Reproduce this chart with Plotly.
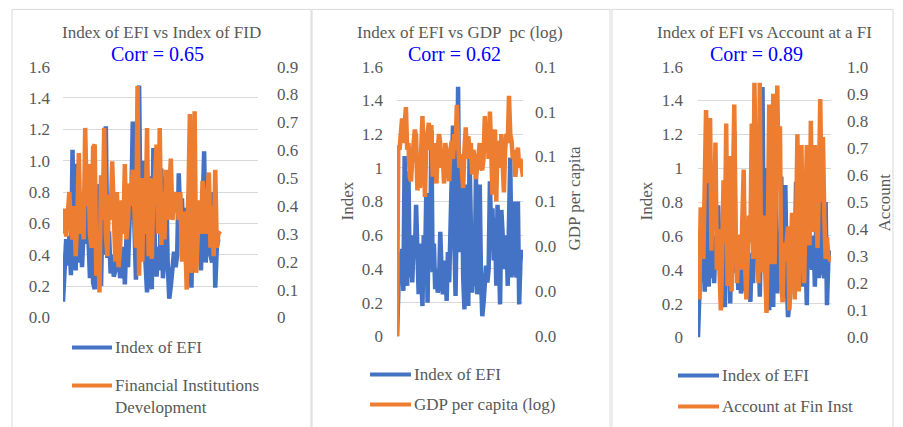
import plotly.graph_objects as go

W, H = 903, 427

# ---------------- data ----------------
efi = [0.00, 0.30, 0.50, 0.33, 0.52, 0.27, 1.07, 0.45, 0.30, 0.98,
       0.35, 0.60, 0.32, 0.55, 0.47, 0.78, 0.48, 0.25, 0.55, 0.22,
       0.18, 0.60, 0.40, 0.85, 0.20, 0.75, 0.40, 1.22, 0.38, 0.55,
       0.28, 0.40, 0.26, 0.30, 0.62, 0.40, 0.25, 0.35, 0.45, 0.21,
       0.50, 0.32, 0.62, 0.70, 1.25, 0.60, 0.24, 0.75, 1.48, 0.50,
       0.85, 1.00, 0.35, 0.16, 0.90, 0.30, 0.18, 1.08, 0.40, 0.26,
       0.45, 0.30, 0.95, 0.25, 0.40, 0.90, 0.35, 0.12, 0.20, 0.35,
       0.42, 0.32, 0.40, 0.92, 0.60, 0.76, 0.45, 0.70, 0.30, 0.78,
       0.45, 0.19, 0.75, 0.55, 0.46, 0.40, 0.60, 0.30, 0.86, 1.06,
       0.35, 0.60, 0.80, 0.40, 0.35, 0.80, 0.19, 0.45, 0.50, 0.50]

efi_p1_first = 0.10  # first point as drawn in panel 1

fid = [0.30, 0.39, 0.29, 0.36, 0.45, 0.32, 0.28, 0.40, 0.22, 0.35,
       0.59, 0.30, 0.45, 0.28, 0.68, 0.40, 0.55, 0.30, 0.25, 0.61,
       0.62, 0.15, 0.30, 0.09, 0.51, 0.35, 0.68, 0.30, 0.22, 0.44,
       0.35, 0.56, 0.40, 0.20, 0.45, 0.18, 0.25, 0.42, 0.30, 0.55,
       0.28, 0.35, 0.48, 0.40, 0.53, 0.38, 0.25, 0.83, 0.15, 0.50,
       0.20, 0.50, 0.30, 0.68, 0.22, 0.50, 0.21, 0.45, 0.50, 0.62,
       0.30, 0.68, 0.26, 0.45, 0.28, 0.53, 0.35, 0.45, 0.57, 0.35,
       0.40, 0.45, 0.40, 0.35, 0.45, 0.20, 0.38, 0.30, 0.10, 0.40,
       0.73, 0.16, 0.35, 0.74, 0.16, 0.30, 0.42, 0.30, 0.49, 0.35,
       0.30, 0.45, 0.52, 0.25, 0.40, 0.22, 0.53, 0.25, 0.30, 0.31]

gdp = [0.000, 0.085, 0.083, 0.090, 0.097, 0.086, 0.094, 0.102, 0.083, 0.086,
       0.071, 0.069, 0.079, 0.086, 0.092, 0.089, 0.065, 0.068, 0.066, 0.083,
       0.098, 0.079, 0.062, 0.086, 0.090, 0.095, 0.083, 0.094, 0.071, 0.086,
       0.079, 0.068, 0.083, 0.090, 0.086, 0.075, 0.079, 0.068, 0.086, 0.079,
       0.075, 0.069, 0.083, 0.087, 0.079, 0.090, 0.083, 0.103, 0.086, 0.075,
       0.081, 0.071, 0.066, 0.083, 0.093, 0.079, 0.089, 0.083, 0.086, 0.072,
       0.083, 0.079, 0.070, 0.075, 0.083, 0.086, 0.075, 0.074, 0.079, 0.098,
       0.084, 0.089, 0.079, 0.100, 0.083, 0.063, 0.086, 0.092, 0.060, 0.087,
       0.083, 0.075, 0.090, 0.079, 0.064, 0.083, 0.090, 0.086, 0.107, 0.090,
       0.087, 0.079, 0.083, 0.071, 0.081, 0.084, 0.075, 0.079, 0.075, 0.071]

acc = [0.40, 0.14, 0.48, 0.45, 0.29, 0.50, 0.84, 0.57, 0.65, 0.81,
       0.32, 0.57, 0.45, 0.72, 0.25, 0.40, 0.20, 0.10, 0.30, 0.58,
       0.35, 0.79, 0.19, 0.40, 0.67, 0.17, 0.45, 0.86, 0.40, 0.20,
       0.30, 0.38, 0.25, 0.45, 0.62, 0.27, 0.14, 0.30, 0.45, 0.35,
       0.79, 0.29, 0.94, 0.57, 0.35, 0.20, 0.94, 0.24, 0.40, 0.45,
       0.25, 0.09, 0.40, 0.86, 0.50, 0.27, 0.90, 0.27, 0.55, 0.93,
       0.60, 0.78, 0.20, 0.13, 0.35, 0.28, 0.35, 0.41, 0.10, 0.30,
       0.46, 0.30, 0.14, 0.40, 0.75, 0.17, 0.40, 0.71, 0.35, 0.20,
       0.45, 0.71, 0.40, 0.34, 0.80, 0.39, 0.50, 0.71, 0.45, 0.33,
       0.55, 0.88, 0.50, 0.74, 0.45, 0.29, 0.37, 0.30, 0.29, 0.28]

titles = ["Index of EFI vs Index of FID", "Index of EFI vs GDP  pc (log)",
          "Index of EFI vs Account at a FI"]
corrs = ["Corr = 0.65", "Corr = 0.62", "Corr = 0.89"]
legend1 = ["Index of EFI", "Financial Institutions<br>Development"]
legend2 = ["Index of EFI", "GDP per capita (log)"]
legend3 = ["Index of EFI", "Account at Fin Inst"]

left_ticks = [0, 0.2, 0.4, 0.6, 0.8, 1.0, 1.2, 1.4, 1.6]
p1_right_ticks = [0, 0.1, 0.2, 0.3, 0.4, 0.5, 0.6, 0.7, 0.8, 0.9]
p1_right_text = ["0", "0.1", "0.2", "0.3", "0.4", "0.5", "0.6", "0.7", "0.8", "0.9"]
p2_right_ticks = [0, 0.02, 0.04, 0.06, 0.08, 0.10, 0.12]
p3_right_ticks = [0, 0.1, 0.2, 0.3, 0.4, 0.5, 0.6, 0.7, 0.8, 0.9, 1.0]

# ---------------- style ----------------
BLUE = "#4472C4"
ORANGE = "#ED7D31"
GRAY = "#595959"
GRID = "#d9d9d9"
FONT = "Liberation Serif"
LW = 4.5

# empirical vertical correction of the capture (observed y = 9.4 + 0.956*y)
Y_OFF, Y_SCALE = 9.4, 0.956


def fx(p):
    return p / W


def fy(p):
    q = (p - Y_OFF) / Y_SCALE
    return min(max(1 - q / H, 0.0), 1.0)


idx = list(range(len(efi)))
efi_p1 = [efi_p1_first] + efi[1:]

fig = go.Figure()
fig.add_trace(go.Scatter(x=idx, y=efi_p1, xaxis="x", yaxis="y", mode="lines",
                         line=dict(color=BLUE, width=LW)))
fig.add_trace(go.Scatter(x=idx, y=fid, xaxis="x", yaxis="y2", mode="lines",
                         line=dict(color=ORANGE, width=LW)))
fig.add_trace(go.Scatter(x=idx, y=efi, xaxis="x2", yaxis="y3", mode="lines",
                         line=dict(color=BLUE, width=LW)))
fig.add_trace(go.Scatter(x=idx, y=gdp, xaxis="x2", yaxis="y4", mode="lines",
                         line=dict(color=ORANGE, width=LW)))
fig.add_trace(go.Scatter(x=idx, y=efi, xaxis="x3", yaxis="y5", mode="lines",
                         line=dict(color=BLUE, width=LW)))
fig.add_trace(go.Scatter(x=idx, y=acc, xaxis="x3", yaxis="y6", mode="lines",
                         line=dict(color=ORANGE, width=LW)))

tickfont = dict(family=FONT, size=17, color=GRAY)
hidden_x = dict(showgrid=False, showticklabels=False, zeroline=False,
                showline=False, ticks="")


def left_axis(domain, anchor, fmt, standoff):
    return dict(domain=domain, anchor=anchor, range=[0, 1.6001],
                tickvals=left_ticks, tickformat=fmt, showgrid=True,
                gridcolor=GRID, gridwidth=1, zeroline=False, showline=False,
                ticks="", tickfont=tickfont, ticklabelstandoff=standoff)


def right_axis(overlay, anchor, rng, standoff, **kw):
    d = dict(overlaying=overlay, anchor=anchor, side="right", range=rng,
             showgrid=False, zeroline=False, showline=False, ticks="",
             tickfont=tickfont, ticklabelstandoff=standoff)
    d.update(kw)
    return d


xlen = len(efi) - 1
fig.update_layout(
    width=W, height=H, margin=dict(l=0, r=0, t=0, b=0),
    paper_bgcolor="white", plot_bgcolor="white", showlegend=False,
    xaxis=dict(domain=[fx(63), fx(258)], anchor="y",
               range=[0, xlen * 195 / 157], **hidden_x),
    yaxis=left_axis([fy(318), fy(67)], "x", ".1f", 12),
    yaxis2=right_axis("y", "x", [0, 0.90006], 18, tickvals=p1_right_ticks,
                      ticktext=p1_right_text),
    xaxis2=dict(domain=[fx(397), fx(523)], anchor="y3", range=[0, xlen],
                **hidden_x),
    yaxis3=left_axis([fy(337), fy(67)], "x2", "", 13),
    yaxis4=right_axis("y3", "x2", [0, 0.120008], 11, tickvals=p2_right_ticks,
                      tickformat=".1f"),
    xaxis3=dict(domain=[fx(698), fx(831)], anchor="y5", range=[0, xlen],
                **hidden_x),
    yaxis5=left_axis([fy(338), fy(67)], "x3", "", 14),
    yaxis6=right_axis("y5", "x3", [0, 1.00006], 15, tickvals=p3_right_ticks,
                      tickformat=".1f"),
)

shapes = []
# panel frames (bottom edge runs off the picture, as in the original)
for x0, x1 in [(12, 311), (312, 610), (612, 893)]:
    shapes.append(dict(type="rect", xref="paper", yref="paper",
                       x0=fx(x0), x1=fx(x1), y0=-0.05, y1=0.999,
                       line=dict(color=GRID, width=1), fillcolor="rgba(0,0,0,0)",
                       layer="below"))

annotations = []
# titles
for (cx, tx), (cc, txt) in zip([(161, titles[0]), (460, titles[1]), (764, titles[2])],
                               [(157, corrs[0]), (454, corrs[1]), (756, corrs[2])]):
    annotations.append(dict(x=fx(cx), y=fy(33), xref="paper", yref="paper",
                            text=tx, showarrow=False, xanchor="center",
                            yanchor="middle",
                            font=dict(family=FONT, size=17, color=GRAY)))
    annotations.append(dict(x=fx(cc), y=fy(54), xref="paper", yref="paper",
                            text=txt, showarrow=False, xanchor="center",
                            yanchor="middle",
                            font=dict(family=FONT, size=20, color="#0000ff")))

# axis titles
for x, y, t in [(347, 202, "Index"), (575, 199, "GDP per capita"),
                (646, 202, "Index"), (884, 203, "Account")]:
    annotations.append(dict(x=fx(x), y=fy(y), xref="paper", yref="paper",
                            text=t, showarrow=False, textangle=-90,
                            xanchor="center", yanchor="middle",
                            font=dict(family=FONT, size=17, color=GRAY)))

# legends
legend_specs = [
    (72, 112, [(348, legend1[0], BLUE), (386, legend1[1], ORANGE)]),
    (370, 411, [(375, legend2[0], BLUE), (405, legend2[1], ORANGE)]),
    (678, 719, [(376, legend3[0], BLUE), (407, legend3[1], ORANGE)]),
]
for lx0, lx1, items in legend_specs:
    for ly, txt, col in items:
        shapes.append(dict(type="line", xref="paper", yref="paper",
                           x0=fx(lx0), x1=fx(lx1), y0=fy(ly), y1=fy(ly),
                           line=dict(color=col, width=4)))
        two_line = "<br>" in txt
        annotations.append(dict(x=fx(lx1 + 1), y=fy(ly - 11) if two_line else fy(ly),
                                xref="paper", yref="paper", text=txt,
                                showarrow=False, xanchor="left",
                                yanchor="top" if two_line else "middle",
                                align="left",
                                font=dict(family=FONT, size=17, color=GRAY)))

fig.update_layout(shapes=shapes, annotations=annotations)

pin_js = (
    "document.documentElement.style.margin='0';"
    "document.documentElement.style.overflow='hidden';"
    "document.body.style.margin='0';document.body.style.padding='0';"
    "document.body.style.overflow='hidden';"
    "var gd=document.getElementById('{plot_id}');"
    "gd.style.position='fixed';gd.style.left='0px';gd.style.top='0px';"
)
fig.write_html("out.html", config={"displayModeBar": False},
               post_script=pin_js)
